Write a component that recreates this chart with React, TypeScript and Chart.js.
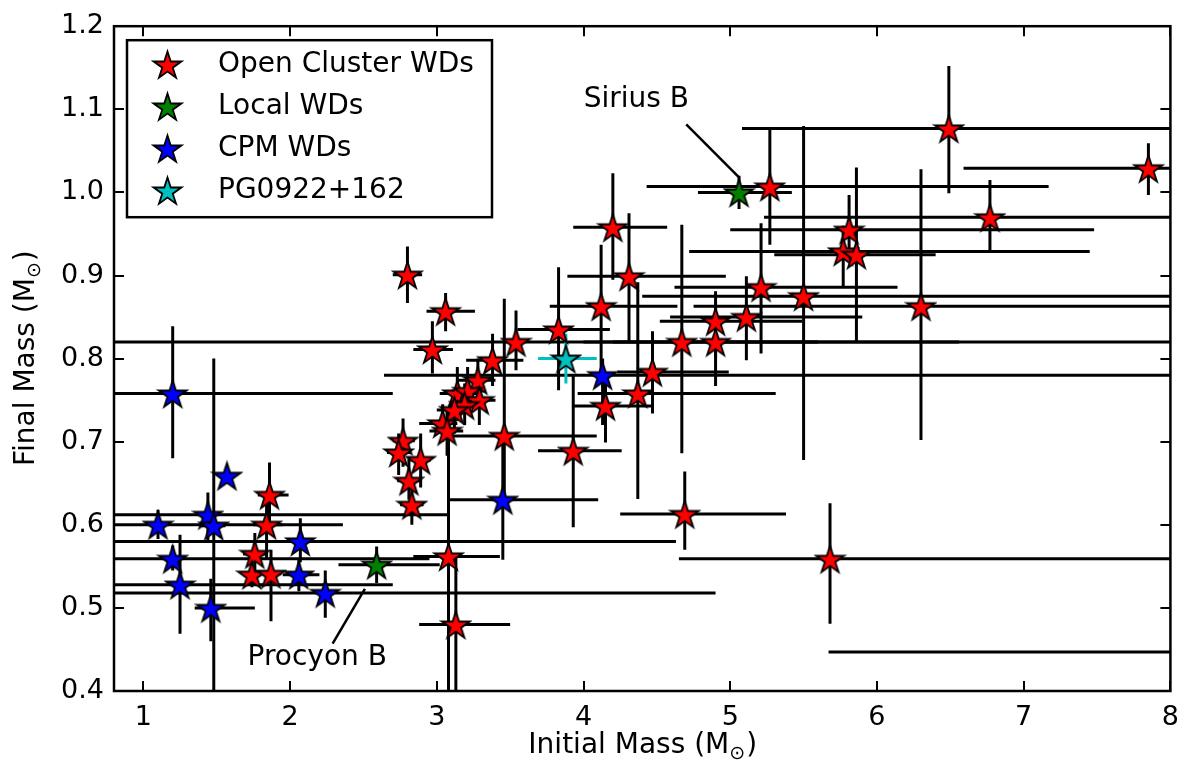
import React, { useEffect, useRef } from "react";
import { Chart, registerables } from "chart.js";

Chart.register(...registerables);

// ---------- Data ----------
// Open Cluster WDs (red)
const ocX = [1.86, 1.84, 1.76, 1.74, 1.87, 2.80, 3.06, 2.97, 3.54, 3.38, 3.28, 3.14, 3.21, 3.29, 3.19, 3.12, 3.04, 3.07, 2.77, 2.74, 2.89, 2.81, 2.83, 3.46, 3.93, 3.83, 4.12, 4.15, 4.20, 4.31, 4.47, 4.37, 4.67, 4.90, 4.90, 5.11, 5.21, 5.50, 5.27, 5.81, 5.77, 5.86, 6.49, 7.85, 6.77, 6.30, 4.69, 5.68, 3.08, 3.13, 9.50];
const ocY = [0.636, 0.600, 0.565, 0.540, 0.541, 0.901, 0.857, 0.811, 0.820, 0.798, 0.774, 0.758, 0.761, 0.750, 0.744, 0.738, 0.722, 0.713, 0.701, 0.687, 0.678, 0.653, 0.624, 0.707, 0.689, 0.835, 0.863, 0.743, 0.958, 0.899, 0.784, 0.758, 0.820, 0.845, 0.820, 0.850, 0.886, 0.875, 1.007, 0.955, 0.929, 0.925, 1.077, 1.029, 0.970, 0.863, 0.613, 0.559, 0.562, 0.480, 0.447];
const ocXLo = [1.78, 1.75, 1.68, 1.68, 1.80, 2.70, 2.93, 2.84, 0.50, 3.20, 3.14, 3.02, 3.10, 3.18, 3.08, 3.00, 2.88, 2.95, 2.70, 2.66, 2.82, 2.73, 2.75, 3.11, 3.69, 3.55, 3.77, 3.93, 3.93, 3.89, 4.23, 3.96, 4.00, 4.52, 4.20, 4.59, 4.62, 4.40, 4.43, 5.00, 4.72, 5.30, 5.08, 6.59, 5.23, 4.75, 4.25, 4.65, 2.84, 2.88, 5.67];
const ocXHi = [1.99, 1.95, 1.84, 1.80, 1.94, 2.90, 3.26, 3.11, 6.56, 3.59, 3.40, 3.27, 3.33, 3.40, 3.30, 3.22, 3.14, 3.18, 2.85, 2.82, 2.96, 2.89, 2.91, 4.09, 4.26, 4.18, 4.64, 4.47, 4.57, 4.97, 4.99, 5.31, 9.00, 5.49, 5.60, 5.90, 6.14, 9.00, 7.17, 7.48, 7.45, 6.40, 9.00, 9.00, 9.00, 9.00, 5.38, 9.00, 3.43, 3.50, 13.0];
const ocYLo = [0.600, 0.560, 0.540, 0.525, 0.484, 0.867, 0.833, 0.782, 0.786, 0.767, 0.745, 0.730, 0.735, 0.720, 0.720, 0.710, 0.700, 0.683, 0.670, 0.660, 0.645, 0.630, 0.600, 0.630, 0.597, 0.762, 0.780, 0.699, 0.895, 0.820, 0.734, 0.631, 0.686, 0.767, 0.800, 0.798, 0.806, 0.678, 0.937, 0.920, 0.885, 0.820, 0.999, 0.997, 0.929, 0.702, 0.570, 0.481, 0.300, 0.300, 0.440];
const ocYHi = [0.675, 0.640, 0.590, 0.555, 0.570, 0.935, 0.879, 0.845, 0.858, 0.830, 0.800, 0.790, 0.790, 0.770, 0.770, 0.760, 0.745, 0.740, 0.728, 0.710, 0.710, 0.680, 0.650, 0.872, 0.780, 0.910, 0.937, 0.780, 1.023, 0.975, 0.833, 0.892, 0.961, 0.881, 0.840, 0.899, 0.963, 1.080, 1.078, 0.997, 0.960, 1.030, 1.152, 1.059, 1.015, 1.028, 0.664, 0.626, 0.710, 0.560, 0.455];

// Local WDs (green)
const lwX = [5.06, 2.59];
const lwY = [1.000, 0.552];
const lwXLo = [4.78, 2.33];
const lwXHi = [5.42, 3.02];
const lwYLo = [0.980, 0.530];
const lwYHi = [1.020, 0.574];

// CPM WDs (blue)
const cpX = [1.20, 1.57, 1.10, 1.44, 1.48, 1.46, 1.20, 1.25, 2.07, 2.06, 2.24, 3.45, 4.13];
const cpY = [0.758, 0.659, 0.600, 0.612, 0.599, 0.500, 0.559, 0.528, 0.580, 0.540, 0.518, 0.630, 0.780];
const cpXLo = [0.50, 1.52, 0.50, 0.50, 1.40, 1.35, 0.50, 0.50, 0.50, 1.95, 0.50, 3.09, 2.64];
const cpXHi = [2.70, 1.62, 2.36, 3.09, 1.56, 1.76, 2.95, 2.70, 4.63, 2.20, 4.90, 4.10, 9.00];
const cpYLo = [0.680, 0.650, 0.583, 0.580, 0.300, 0.460, 0.545, 0.469, 0.555, 0.520, 0.488, 0.558, 0.720];
const cpYHi = [0.839, 0.668, 0.618, 0.639, 0.800, 0.535, 0.575, 0.588, 0.608, 0.560, 0.545, 0.700, 0.800];

// PG0922+162 (cyan)
const pgX = [3.88];
const pgY = [0.800];
const pgXLo = [3.69];
const pgXHi = [4.09];
const pgYLo = [0.770];
const pgYHi = [0.830];

const seriesLabels = ["Open Cluster WDs", "Local WDs", "CPM WDs", "PG0922+162"];
const seriesColors = ["#ff0000", "#008000", "#0000ff", "#00bfbf"];
const errColors = ["#000000", "#000000", "#000000", "#00bfbf"];

const xTicks = [1, 2, 3, 4, 5, 6, 7, 8];
const yTicks = [0.4, 0.5, 0.6, 0.7, 0.8, 0.9, 1.0, 1.1, 1.2];
const xMin = 0.8;
const xMax = 8;
const yMin = 0.4;
const yMax = 1.2;

const xTitle = "Initial Mass (M";
const yTitle = "Final Mass (M";
const sunSymbol = "\u2299";

// annotations: label, text position, pointer line start/end (data units)
const annTexts = ["Sirius B", "Procyon B"];
const annTextX = [4.36, 2.185];
const annTextY = [1.112, 0.44];
const annLineX0 = [4.70, 2.51];
const annLineY0 = [1.082, 0.523];
const annLineX1 = [5.06, 2.29];
const annLineY1 = [1.018, 0.457];

const FONT = '"DejaVu Sans", sans-serif';

const SERIES = [
  { x: ocX, y: ocY, xlo: ocXLo, xhi: ocXHi, ylo: ocYLo, yhi: ocYHi },
  { x: lwX, y: lwY, xlo: lwXLo, xhi: lwXHi, ylo: lwYLo, yhi: lwYHi },
  { x: cpX, y: cpY, xlo: cpXLo, xhi: cpXHi, ylo: cpYLo, yhi: cpYHi },
  { x: pgX, y: pgY, xlo: pgXLo, xhi: pgXHi, ylo: pgYLo, yhi: pgYHi },
];

function makeStar(fill: string, R = 14.5): HTMLCanvasElement {
  const size = Math.ceil(2 * R + 4);
  const c = document.createElement("canvas");
  c.width = size;
  c.height = size;
  const g = c.getContext("2d")!;
  const cx = size / 2;
  const cy = size / 2 + 1.5;
  const r = R * 0.381966;
  g.beginPath();
  for (let i = 0; i < 10; i++) {
    const a = -Math.PI / 2 + (i * Math.PI) / 5;
    const rr = i % 2 === 0 ? R : r;
    const px = cx + rr * Math.cos(a);
    const py = cy + rr * Math.sin(a);
    if (i === 0) g.moveTo(px, py);
    else g.lineTo(px, py);
  }
  g.closePath();
  g.fillStyle = fill;
  g.fill();
  g.lineWidth = 1.8;
  g.strokeStyle = "#000";
  g.lineJoin = "miter";
  g.stroke();
  return c;
}

function drawSunTitle(ctx: CanvasRenderingContext2D, prefix: string, cx: number, cy: number, rotate: boolean) {
  ctx.save();
  ctx.translate(cx, cy);
  if (rotate) ctx.rotate(-Math.PI / 2);
  const big = `28px ${FONT}`;
  const small = `19px ${FONT}`;
  ctx.font = big;
  const w1 = ctx.measureText(prefix).width;
  const w3 = ctx.measureText(")").width;
  ctx.font = small;
  const w2 = ctx.measureText(sunSymbol).width;
  const x0 = -(w1 + w2 + w3) / 2;
  ctx.fillStyle = "#000";
  ctx.textAlign = "left";
  ctx.textBaseline = "middle";
  ctx.font = big;
  ctx.fillText(prefix, x0, 0);
  ctx.font = small;
  ctx.fillText(sunSymbol, x0 + w1, 8);
  ctx.font = big;
  ctx.fillText(")", x0 + w1 + w2 + 1, 0);
  ctx.restore();
}

export default function App() {
  const ref = useRef<HTMLCanvasElement | null>(null);

  useEffect(() => {
    if (!ref.current) return;
    const stars = seriesColors.map((c) => makeStar(c));

    const errorBars = {
      id: "errorBars",
      beforeDatasetsDraw(chart: any) {
        const { ctx, chartArea: a, scales } = chart;
        const xs = scales.x;
        const ys = scales.y;
        ctx.save();
        ctx.beginPath();
        ctx.rect(a.left, a.top, a.right - a.left, a.bottom - a.top);
        ctx.clip();
        ctx.lineWidth = 3;
        ctx.lineCap = "butt";
        SERIES.forEach((s, si) => {
          ctx.strokeStyle = errColors[si];
          for (let i = 0; i < s.x.length; i++) {
            const px = xs.getPixelForValue(s.x[i]);
            const py = ys.getPixelForValue(s.y[i]);
            ctx.beginPath();
            ctx.moveTo(xs.getPixelForValue(s.xlo[i]), py);
            ctx.lineTo(xs.getPixelForValue(s.xhi[i]), py);
            ctx.moveTo(px, ys.getPixelForValue(s.yhi[i]));
            ctx.lineTo(px, ys.getPixelForValue(s.ylo[i]));
            ctx.stroke();
          }
        });
        ctx.restore();
      },
    };

    const decorations = {
      id: "decorations",
      afterDatasetsDraw(chart: any) {
        const { ctx, chartArea: a, scales } = chart;
        const xs = scales.x;
        const ys = scales.y;
        ctx.save();
        // annotations
        ctx.strokeStyle = "#000";
        ctx.lineWidth = 2.5;
        ctx.fillStyle = "#000";
        ctx.font = `28px ${FONT}`;
        ctx.textAlign = "center";
        ctx.textBaseline = "middle";
        for (let i = 0; i < annTexts.length; i++) {
          ctx.beginPath();
          ctx.moveTo(xs.getPixelForValue(annLineX0[i]), ys.getPixelForValue(annLineY0[i]));
          ctx.lineTo(xs.getPixelForValue(annLineX1[i]), ys.getPixelForValue(annLineY1[i]));
          ctx.stroke();
          ctx.fillText(annTexts[i], xs.getPixelForValue(annTextX[i]), ys.getPixelForValue(annTextY[i]));
        }
        // ticks (inward, all four sides)
        ctx.lineWidth = 2;
        const tl = 10;
        ctx.beginPath();
        xTicks.forEach((v) => {
          const px = Math.round(xs.getPixelForValue(v));
          ctx.moveTo(px, a.bottom);
          ctx.lineTo(px, a.bottom - tl);
          ctx.moveTo(px, a.top);
          ctx.lineTo(px, a.top + tl);
        });
        yTicks.forEach((v) => {
          const py = Math.round(ys.getPixelForValue(v));
          ctx.moveTo(a.left, py);
          ctx.lineTo(a.left + tl, py);
          ctx.moveTo(a.right, py);
          ctx.lineTo(a.right - tl, py);
        });
        ctx.stroke();
        // frame
        ctx.lineWidth = 2.5;
        ctx.strokeRect(a.left, a.top, a.right - a.left, a.bottom - a.top);
        // legend
        const lx = a.left + 13;
        const ly = a.top + 14;
        const lw = 365;
        const lh = 177;
        ctx.fillStyle = "#fff";
        ctx.fillRect(lx, ly, lw, lh);
        ctx.lineWidth = 2.5;
        ctx.strokeRect(lx, ly, lw, lh);
        ctx.font = `28px ${FONT}`;
        ctx.textAlign = "left";
        ctx.textBaseline = "middle";
        ctx.fillStyle = "#000";
        seriesLabels.forEach((lab, i) => {
          const cy = ly + 24 + i * 42;
          const img = stars[i];
          ctx.drawImage(img, Math.round(lx + 40 - img.width / 2), Math.round(cy - img.height / 2));
          ctx.fillText(lab, lx + 91, cy + 1);
        });
        // axis titles
        drawSunTitle(ctx, xTitle, (a.left + a.right) / 2, 746, false);
        drawSunTitle(ctx, yTitle, 27, (a.top + a.bottom) / 2, true);
        ctx.restore();
      },
    };

    const datasets = SERIES.map((s, si) => ({
      type: "scatter" as const,
      label: seriesLabels[si],
      data: s.x.map((xv, i) => ({ x: xv, y: s.y[i] })),
      pointStyle: stars[si],
      pointRadius: 15,
      pointHoverRadius: 15,
      showLine: false,
      order: SERIES.length - si,
    }));

    const chart = new Chart(ref.current, {
      type: "scatter",
      data: { datasets },
      options: {
        animation: false,
        responsive: false,
        events: [],
        layout: { padding: { left: 0, right: 18, top: 19, bottom: 0 } },
        plugins: { legend: { display: false }, tooltip: { enabled: false } },
        scales: {
          x: {
            type: "linear",
            min: xMin,
            max: xMax,
            grid: { display: false, drawTicks: false },
            border: { display: false },
            ticks: {
              font: { family: FONT, size: 27 },
              color: "#000",
              padding: 11,
              autoSkip: false,
              maxRotation: 0,
              callback: (v: any) => String(v),
            },
            afterBuildTicks: (s: any) => {
              s.ticks = xTicks.map((v) => ({ value: v }));
            },
            afterFit: (s: any) => {
              s.height = 87;
            },
          },
          y: {
            type: "linear",
            min: yMin,
            max: yMax,
            grid: { display: false, drawTicks: false },
            border: { display: false },
            ticks: {
              font: { family: FONT, size: 27 },
              color: "#000",
              padding: 10,
              autoSkip: false,
              callback: (v: any) => Number(v).toFixed(1),
            },
            afterBuildTicks: (s: any) => {
              s.ticks = yTicks.map((v) => ({ value: v }));
            },
            afterFit: (s: any) => {
              s.width = 114;
            },
          },
        },
      },
      plugins: [errorBars, decorations],
    } as any);

    return () => chart.destroy();
  }, []);

  return (
    <div style={{ position: "absolute", left: 0, top: 0, width: 1190, height: 778, background: "#fff" }}>
      <canvas ref={ref} width={1190} height={778} style={{ display: "block" }} />
    </div>
  );
}
